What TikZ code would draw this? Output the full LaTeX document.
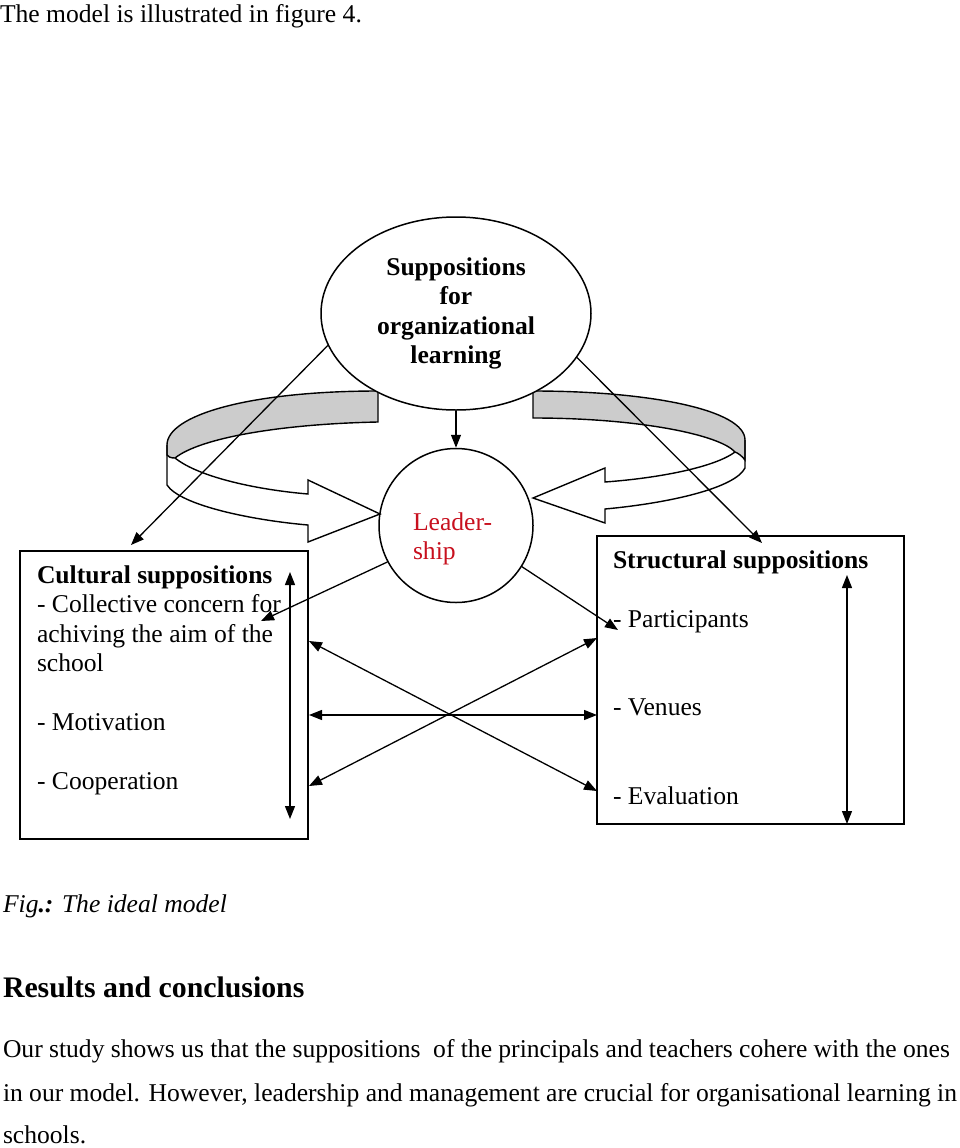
\documentclass[tikz,border=0pt]{standalone}
\usepackage{fontspec}
\setmainfont{Liberation Serif}
\usetikzlibrary{arrows.meta,shapes.geometric}
\newcommand\dfont{\fontsize{25.6pt}{29.5pt}\selectfont}
\definecolor{leadred}{RGB}{200,16,30}
\definecolor{ribbongray}{RGB}{204,204,204}
\begin{document}
\begin{tikzpicture}[x=1pt,y=-1pt,
  txt/.style={inner sep=0pt, outer sep=0pt, font=\dfont, anchor=base west},
  arr/.style={line width=1.3pt, -{Triangle[length=13pt,width=10pt]}},
  darr/.style={line width=1.3pt, {Triangle[length=13pt,width=10pt]}-{Triangle[length=13pt,width=10pt]}},
  box/.style={draw, line width=1.5pt, rectangle, minimum width=#1, minimum height=288pt, inner sep=0pt},
  ribbon/.style={line width=1.4pt, line join=miter}]
\fill[white] (0,0) rectangle (960,1148);
\useasboundingbox (0,0) rectangle (960,1148);

\node[txt] (intro) at (0,23) {The model is illustrated in figure 4.};

% ribbons (drawn first, lines go over them)
\filldraw[ribbon, fill=ribbongray] (378,391) .. controls (250,391) and (167,415) .. (167,445) -- (167,455)
  .. controls (168,457) and (171,458) .. (175,458) .. controls (200,438) and (280,424) .. (378,422) -- cycle;
\draw[ribbon] (167,445) -- (167,485) .. controls (180,505) and (250,520) .. (308,525) -- (308,542) -- (380,514)
  -- (308,480) -- (308,494) .. controls (260,490) and (200,478) .. (175,458);

\filldraw[ribbon, fill=ribbongray] (533,391) .. controls (650,391) and (745,410) .. (745,440) -- (745,460)
  .. controls (742,456) and (738,453) .. (735,452) .. controls (720,435) and (640,418) .. (533,418) -- cycle;
\draw[ribbon] (745,440) -- (745,468) .. controls (735,488) and (670,503) .. (605,509) -- (605,523) -- (533,498)
  -- (605,468) -- (605,482) .. controls (660,478) and (715,467) .. (735,452);

% main nodes
\node[draw, ellipse, line width=1.5pt, minimum width=270pt, minimum height=193pt, inner sep=0pt,
  align=center, font=\dfont\bfseries, fill=white] (sup) at (456,313.5) {Suppositions\\for\\organizational\\learning};
\node[draw, circle, line width=1.5pt, minimum size=154pt, inner sep=0pt] (lead) at (456,525.5) {};
\node[txt, text=leadred] (leadA) at (413,530) {Leader-};
\node[txt, text=leadred] (leadB) at (413,559.5) {ship};

\node[box=288pt] (cult) at (164,695) {};
\node[box=307pt] (struct) at (750.5,680) {};

\node[txt, font=\dfont\bfseries] (c0) at (37,583) {Cultural suppositions};
\node[txt] (c1) at (37,612.5) {- Collective concern for};
\node[txt] (c2) at (37,642) {achiving the aim of the};
\node[txt] (c3) at (37,671.5) {school};
\node[txt] (c4) at (37,730.5) {- Motivation};
\node[txt] (c5) at (37,789.5) {- Cooperation};

\node[txt, font=\dfont\bfseries] (s0) at (613,568) {Structural suppositions};
\node[txt] (s1) at (613,627) {- Participants};
\node[txt] (s2) at (613,715.5) {- Venues};
\node[txt] (s3) at (613,804) {- Evaluation};

% free ends
\coordinate (cultTop) at (131,545);
\coordinate (structTop) at (762,543);
\coordinate (cultIn) at (261,621);
\coordinate (partIn) at (618,630);
\coordinate (L1) at (309,641);
\coordinate (L2) at (309,715);
\coordinate (L3) at (309,786);
\coordinate (R1) at (597,638);
\coordinate (R2) at (597,715);
\coordinate (R3) at (597,791);
\coordinate (cv1) at (290,572);
\coordinate (cv2) at (290,819);
\coordinate (sv1) at (847,575);
\coordinate (sv2) at (847,824);

% connectors
\draw[arr] (sup.south) -- (lead.north);
\draw[arr] (sup.194) -- (cultTop);
\draw[arr] (sup.340) -- (structTop);
\draw[arr] (lead.208) -- (cultIn);
\draw[arr] (lead.328) -- (partIn);
\draw[darr] (L1) -- (R3);
\draw[darr] (L3) -- (R1);
\draw[darr] (L2) -- (R2);
\draw[darr] (cv1) -- (cv2);
\draw[darr] (sv1) -- (sv2);

% caption and text
\node[txt] (cap) at (3,912) {\textit{Fig}\textbf{\textit{.:}}\textit{ The ideal model}};
\node[txt, font=\fontsize{29.8pt}{34pt}\selectfont\bfseries] (res) at (3,997) {Results and conclusions};
\node[txt] (p1) at (3,1057) {\makebox[947pt][s]{Our study shows us that the suppositions\ \ of the principals and teachers cohere with the ones}};
\node[txt] (p2) at (3,1101) {\makebox[954pt][s]{in our model. However, leadership and management are crucial for organisational learning in}};
\node[txt] (p3) at (3,1143) {schools.};
\end{tikzpicture}
\end{document}
